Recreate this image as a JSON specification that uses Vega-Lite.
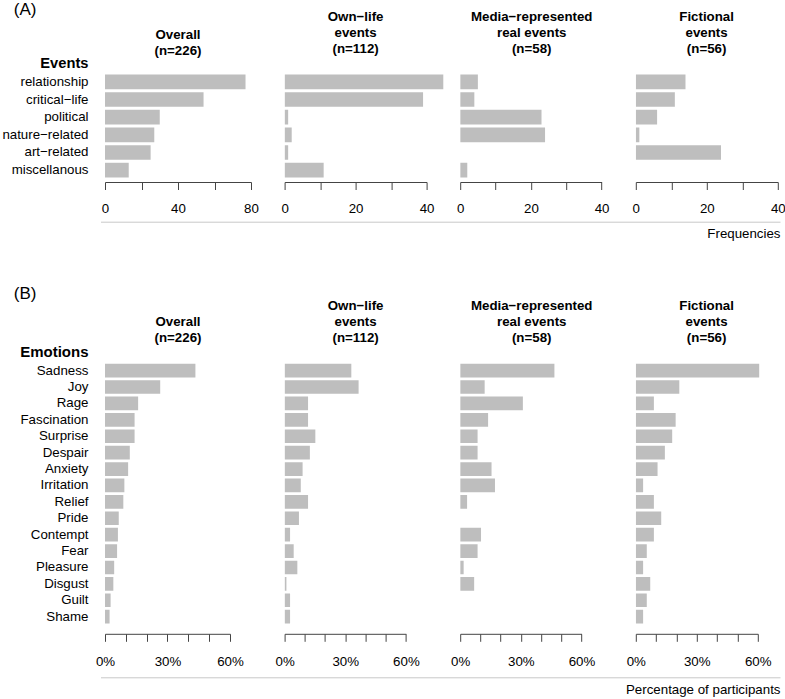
{
  "$schema": "https://vega.github.io/schema/vega-lite/v6.json",
  "padding": {"left": 1, "top": 0, "right": 0, "bottom": 0},
  "background": "white",
  "config": {
    "font": "Liberation Sans",
    "view": {"stroke": null},
    "title": {"font": "Liberation Sans", "fontSize": 13.3, "fontWeight": "bold", "color": "black", "lineHeight": 16.3, "baseline": "bottom", "frame": "group", "anchor": "middle"},
    "axis": {"labelFont": "Liberation Sans", "titleFont": "Liberation Sans", "labelColor": "black", "titleColor": "black", "grid": false}
  },
  "datasets": {
    "events": [
      {"panel": "Overall", "category": "relationship", "value": 77},
      {"panel": "Overall", "category": "critical−life", "value": 54},
      {"panel": "Overall", "category": "political", "value": 30},
      {"panel": "Overall", "category": "nature−related", "value": 27},
      {"panel": "Overall", "category": "art−related", "value": 25},
      {"panel": "Overall", "category": "miscellanous", "value": 13},
      {"panel": "Own", "category": "relationship", "value": 58},
      {"panel": "Own", "category": "critical−life", "value": 39},
      {"panel": "Own", "category": "political", "value": 1},
      {"panel": "Own", "category": "nature−related", "value": 2},
      {"panel": "Own", "category": "art−related", "value": 1},
      {"panel": "Own", "category": "miscellanous", "value": 11},
      {"panel": "Media", "category": "relationship", "value": 5},
      {"panel": "Media", "category": "critical−life", "value": 4},
      {"panel": "Media", "category": "political", "value": 23},
      {"panel": "Media", "category": "nature−related", "value": 24},
      {"panel": "Media", "category": "art−related", "value": 0},
      {"panel": "Media", "category": "miscellanous", "value": 2},
      {"panel": "Fict", "category": "relationship", "value": 14},
      {"panel": "Fict", "category": "critical−life", "value": 11},
      {"panel": "Fict", "category": "political", "value": 6},
      {"panel": "Fict", "category": "nature−related", "value": 1},
      {"panel": "Fict", "category": "art−related", "value": 24},
      {"panel": "Fict", "category": "miscellanous", "value": 0}
    ],
    "emotions": [
      {"panel": "Overall", "category": "Sadness", "value": 43.4},
      {"panel": "Overall", "category": "Joy", "value": 26.5},
      {"panel": "Overall", "category": "Rage", "value": 15.9},
      {"panel": "Overall", "category": "Fascination", "value": 14.2},
      {"panel": "Overall", "category": "Surprise", "value": 14.2},
      {"panel": "Overall", "category": "Despair", "value": 11.9},
      {"panel": "Overall", "category": "Anxiety", "value": 11.1},
      {"panel": "Overall", "category": "Irritation", "value": 9.3},
      {"panel": "Overall", "category": "Relief", "value": 8.8},
      {"panel": "Overall", "category": "Pride", "value": 6.6},
      {"panel": "Overall", "category": "Contempt", "value": 6.2},
      {"panel": "Overall", "category": "Fear", "value": 5.8},
      {"panel": "Overall", "category": "Pleasure", "value": 4.4},
      {"panel": "Overall", "category": "Disgust", "value": 4.0},
      {"panel": "Overall", "category": "Guilt", "value": 2.7},
      {"panel": "Overall", "category": "Shame", "value": 2.2},
      {"panel": "Own", "category": "Sadness", "value": 33.0},
      {"panel": "Own", "category": "Joy", "value": 36.6},
      {"panel": "Own", "category": "Rage", "value": 11.6},
      {"panel": "Own", "category": "Fascination", "value": 11.6},
      {"panel": "Own", "category": "Surprise", "value": 15.2},
      {"panel": "Own", "category": "Despair", "value": 12.5},
      {"panel": "Own", "category": "Anxiety", "value": 8.9},
      {"panel": "Own", "category": "Irritation", "value": 8.0},
      {"panel": "Own", "category": "Relief", "value": 11.6},
      {"panel": "Own", "category": "Pride", "value": 7.1},
      {"panel": "Own", "category": "Contempt", "value": 2.7},
      {"panel": "Own", "category": "Fear", "value": 4.5},
      {"panel": "Own", "category": "Pleasure", "value": 6.3},
      {"panel": "Own", "category": "Disgust", "value": 0.9},
      {"panel": "Own", "category": "Guilt", "value": 2.7},
      {"panel": "Own", "category": "Shame", "value": 2.7},
      {"panel": "Media", "category": "Sadness", "value": 46.6},
      {"panel": "Media", "category": "Joy", "value": 12.1},
      {"panel": "Media", "category": "Rage", "value": 31.0},
      {"panel": "Media", "category": "Fascination", "value": 13.8},
      {"panel": "Media", "category": "Surprise", "value": 8.6},
      {"panel": "Media", "category": "Despair", "value": 8.6},
      {"panel": "Media", "category": "Anxiety", "value": 15.5},
      {"panel": "Media", "category": "Irritation", "value": 17.2},
      {"panel": "Media", "category": "Relief", "value": 3.4},
      {"panel": "Media", "category": "Pride", "value": 0},
      {"panel": "Media", "category": "Contempt", "value": 10.3},
      {"panel": "Media", "category": "Fear", "value": 8.6},
      {"panel": "Media", "category": "Pleasure", "value": 1.7},
      {"panel": "Media", "category": "Disgust", "value": 6.9},
      {"panel": "Media", "category": "Guilt", "value": 0},
      {"panel": "Media", "category": "Shame", "value": 0},
      {"panel": "Fict", "category": "Sadness", "value": 60.7},
      {"panel": "Fict", "category": "Joy", "value": 21.4},
      {"panel": "Fict", "category": "Rage", "value": 8.9},
      {"panel": "Fict", "category": "Fascination", "value": 19.6},
      {"panel": "Fict", "category": "Surprise", "value": 17.9},
      {"panel": "Fict", "category": "Despair", "value": 14.3},
      {"panel": "Fict", "category": "Anxiety", "value": 10.7},
      {"panel": "Fict", "category": "Irritation", "value": 3.6},
      {"panel": "Fict", "category": "Relief", "value": 8.9},
      {"panel": "Fict", "category": "Pride", "value": 12.5},
      {"panel": "Fict", "category": "Contempt", "value": 8.9},
      {"panel": "Fict", "category": "Fear", "value": 5.4},
      {"panel": "Fict", "category": "Pleasure", "value": 3.6},
      {"panel": "Fict", "category": "Disgust", "value": 7.1},
      {"panel": "Fict", "category": "Guilt", "value": 5.4},
      {"panel": "Fict", "category": "Shame", "value": 3.6}
    ]
  },
  "bounds": "flush",
  "spacing": 283.5,
  "vconcat": [
    {
      "bounds": "flush",
      "spacing": 146.2,
      "vconcat": [
        {
          "title": {"text": "(A)", "anchor": "start", "frame": "group", "fontSize": 17, "fontWeight": "normal", "offset": -9.2, "dx": -91.2},
          "bounds": "flush",
          "spacing": 16.6,
          "hconcat": [
            {
              "width": 162.9, "height": 112,
              "title": {"text": ["Overall", "(n=226)"], "dx": -8.45, "dy": 16.3, "offset": 14.4},
              "data": {"name": "events"},
              "transform": [{"filter": "datum.panel === 'Overall'"}],
              "mark": {"type": "bar", "color": "#BEBEBE", "clip": true},
              "encoding": {
                "y": {"field": "category", "type": "nominal", "sort": ["relationship", "critical−life", "political", "nature−related", "art−related", "miscellanous"], "scale": {"paddingInner": 0.1667, "paddingOuter": 0.255},
                  "axis": {"ticks": false, "tickSize": 0, "domain": false, "labelPadding": 17, "labelFontSize": 13.3, "title": "Events", "titleAngle": 0, "titleFontSize": 14.7, "titleFontWeight": "bold", "titleAlign": "right", "titleBaseline": "middle", "titleX": -17, "titleY": -6.6}},
                "x": {"field": "value", "type": "quantitative", "scale": {"domain": [0, 89.26], "nice": false, "zero": true},
                  "axis": {"values": [0, 20, 40, 60, 80], "labelExpr": "datum.value % 40 === 0 ? datum.label : ''", "domainDash": [146, 2000], "domainColor": "#444", "tickColor": "#444", "tickSize": 7.5, "labelPadding": 11.75, "labelBaseline": "top", "labelFontSize": 13.3, "labelFlush": false, "labelOverlap": false, "title": null}}
              }
            },
            {
              "width": 158.7, "height": 112,
              "title": {"text": ["Own−life", "events", "(n=112)"], "dx": -8.35, "offset": 14.4},
              "data": {"name": "events"},
              "transform": [{"filter": "datum.panel === 'Own'"}],
              "mark": {"type": "bar", "color": "#BEBEBE", "clip": true},
              "encoding": {
                "y": {"field": "category", "type": "nominal", "sort": ["relationship", "critical−life", "political", "nature−related", "art−related", "miscellanous"], "scale": {"paddingInner": 0.1667, "paddingOuter": 0.255}, "axis": null},
                "x": {"field": "value", "type": "quantitative", "scale": {"domain": [0, 44.7], "nice": false, "zero": true},
                  "axis": {"values": [0, 10, 20, 30, 40], "labelExpr": "datum.value % 20 === 0 ? datum.label : ''", "domainDash": [142, 2000], "domainColor": "#444", "tickColor": "#444", "tickSize": 7.5, "labelPadding": 11.75, "labelBaseline": "top", "labelFontSize": 13.3, "labelFlush": false, "labelOverlap": false, "title": null}}
              }
            },
            {
              "width": 158.8, "height": 112,
              "title": {"text": ["Media−represented", "real events", "(n=58)"], "dx": -7.9, "offset": 14.4},
              "data": {"name": "events"},
              "transform": [{"filter": "datum.panel === 'Media'"}],
              "mark": {"type": "bar", "color": "#BEBEBE", "clip": true},
              "encoding": {
                "y": {"field": "category", "type": "nominal", "sort": ["relationship", "critical−life", "political", "nature−related", "art−related", "miscellanous"], "scale": {"paddingInner": 0.1667, "paddingOuter": 0.255}, "axis": null},
                "x": {"field": "value", "type": "quantitative", "scale": {"domain": [0, 44.92], "nice": false, "zero": true},
                  "axis": {"values": [0, 10, 20, 30, 40], "labelExpr": "datum.value % 20 === 0 ? datum.label : ''", "domainDash": [141.4, 2000], "domainColor": "#444", "tickColor": "#444", "tickSize": 7.5, "labelPadding": 11.75, "labelBaseline": "top", "labelFontSize": 13.3, "labelFlush": false, "labelOverlap": false, "title": null}}
              }
            },
            {
              "width": 142, "height": 112,
              "title": {"text": ["Fictional", "events", "(n=56)"], "dx": -0.2, "offset": 14.4},
              "data": {"name": "events"},
              "transform": [{"filter": "datum.panel === 'Fict'"}],
              "mark": {"type": "bar", "color": "#BEBEBE", "clip": true},
              "encoding": {
                "y": {"field": "category", "type": "nominal", "sort": ["relationship", "critical−life", "political", "nature−related", "art−related", "miscellanous"], "scale": {"paddingInner": 0.1667, "paddingOuter": 0.255}, "axis": null},
                "x": {"field": "value", "type": "quantitative", "scale": {"domain": [0, 40], "nice": false, "zero": true},
                  "axis": {"values": [0, 10, 20, 30, 40], "labelExpr": "datum.value % 20 === 0 ? datum.label : ''", "domainColor": "#444", "tickColor": "#444", "tickSize": 7.5, "labelPadding": 11.75, "labelBaseline": "top", "labelFontSize": 13.3, "labelFlush": false, "labelOverlap": false, "title": null}}
              }
            }
          ]
        },
        {
          "width": 679.5, "height": 10,
          "data": {"values": [{"v": 0}]},
          "mark": {"type": "point", "opacity": 0},
          "encoding": {
            "x": {"field": "v", "type": "quantitative", "scale": {"domain": [0, 1]},
              "axis": {"domainColor": "#c8c8c8", "ticks": false, "labels": false, "grid": false, "translate": -4, "title": "Frequencies", "titleX": 679.5, "titleY": 12, "titleAlign": "right", "titleBaseline": "middle", "titleFontSize": 13.3, "titleFontWeight": "normal", "titleAnchor": "end"}}
          }
        }
      ]
    },
    {
      "bounds": "flush",
      "spacing": 318.3,
      "vconcat": [
        {
          "title": {"text": "(B)", "anchor": "start", "frame": "group", "fontSize": 17, "fontWeight": "normal", "offset": -4, "dx": -91.2},
          "bounds": "flush",
          "spacing": 16.6,
          "hconcat": [
            {
              "width": 162.9, "height": 280.3,
              "title": {"text": ["Overall", "(n=226)"], "dx": -8.45, "dy": 8.3, "offset": 8.74},
              "data": {"name": "emotions"},
              "transform": [{"filter": "datum.panel === 'Overall'"}],
              "mark": {"type": "bar", "color": "#BEBEBE", "clip": true},
              "encoding": {
                "y": {"field": "category", "type": "nominal", "sort": ["Sadness", "Joy", "Rage", "Fascination", "Surprise", "Despair", "Anxiety", "Irritation", "Relief", "Pride", "Contempt", "Fear", "Pleasure", "Disgust", "Guilt", "Shame"], "scale": {"paddingInner": 0.1667, "paddingOuter": 0.628},
                  "axis": {"ticks": false, "tickSize": 0, "domain": false, "labelPadding": 17, "labelFontSize": 13.3, "title": "Emotions", "titleAngle": 0, "titleFontSize": 15, "titleFontWeight": "bold", "titleAlign": "right", "titleBaseline": "middle", "titleX": -17, "titleY": -1.6}},
                "x": {"field": "value", "type": "quantitative", "scale": {"domain": [0, 78.2], "nice": false, "zero": true},
                  "axis": {"values": [0, 10, 20, 30, 40, 50, 60], "labelExpr": "datum.value % 30 === 0 ? datum.value + '%' : ''", "domainDash": [125, 2000], "domainColor": "#444", "tickColor": "#444", "tickSize": 7.5, "labelPadding": 12.95, "labelBaseline": "top", "labelFontSize": 13.3, "labelFlush": false, "labelOverlap": false, "title": null}}
              }
            },
            {
              "width": 158.7, "height": 280.3,
              "title": {"text": ["Own−life", "events", "(n=112)"], "dx": -8.35, "offset": 8.74},
              "data": {"name": "emotions"},
              "transform": [{"filter": "datum.panel === 'Own'"}],
              "mark": {"type": "bar", "color": "#BEBEBE", "clip": true},
              "encoding": {
                "y": {"field": "category", "type": "nominal", "sort": ["Sadness", "Joy", "Rage", "Fascination", "Surprise", "Despair", "Anxiety", "Irritation", "Relief", "Pride", "Contempt", "Fear", "Pleasure", "Disgust", "Guilt", "Shame"], "scale": {"paddingInner": 0.1667, "paddingOuter": 0.628}, "axis": null},
                "x": {"field": "value", "type": "quantitative", "scale": {"domain": [0, 78.49], "nice": false, "zero": true},
                  "axis": {"values": [0, 10, 20, 30, 40, 50, 60], "labelExpr": "datum.value % 30 === 0 ? datum.value + '%' : ''", "domainDash": [121.3, 2000], "domainColor": "#444", "tickColor": "#444", "tickSize": 7.5, "labelPadding": 12.95, "labelBaseline": "top", "labelFontSize": 13.3, "labelFlush": false, "labelOverlap": false, "title": null}}
              }
            },
            {
              "width": 158.8, "height": 280.3,
              "title": {"text": ["Media−represented", "real events", "(n=58)"], "dx": -7.9, "offset": 8.74},
              "data": {"name": "emotions"},
              "transform": [{"filter": "datum.panel === 'Media'"}],
              "mark": {"type": "bar", "color": "#BEBEBE", "clip": true},
              "encoding": {
                "y": {"field": "category", "type": "nominal", "sort": ["Sadness", "Joy", "Rage", "Fascination", "Surprise", "Despair", "Anxiety", "Irritation", "Relief", "Pride", "Contempt", "Fear", "Pleasure", "Disgust", "Guilt", "Shame"], "scale": {"paddingInner": 0.1667, "paddingOuter": 0.628}, "axis": null},
                "x": {"field": "value", "type": "quantitative", "scale": {"domain": [0, 78.54], "nice": false, "zero": true},
                  "axis": {"values": [0, 10, 20, 30, 40, 50, 60], "labelExpr": "datum.value % 30 === 0 ? datum.value + '%' : ''", "domainDash": [121.3, 2000], "domainColor": "#444", "tickColor": "#444", "tickSize": 7.5, "labelPadding": 12.95, "labelBaseline": "top", "labelFontSize": 13.3, "labelFlush": false, "labelOverlap": false, "title": null}}
              }
            },
            {
              "width": 142, "height": 280.3,
              "title": {"text": ["Fictional", "events", "(n=56)"], "dx": -0.2, "offset": 8.74},
              "data": {"name": "emotions"},
              "transform": [{"filter": "datum.panel === 'Fict'"}],
              "mark": {"type": "bar", "color": "#BEBEBE", "clip": true},
              "encoding": {
                "y": {"field": "category", "type": "nominal", "sort": ["Sadness", "Joy", "Rage", "Fascination", "Surprise", "Despair", "Anxiety", "Irritation", "Relief", "Pride", "Contempt", "Fear", "Pleasure", "Disgust", "Guilt", "Shame"], "scale": {"paddingInner": 0.1667, "paddingOuter": 0.628}, "axis": null},
                "x": {"field": "value", "type": "quantitative", "scale": {"domain": [0, 69.85], "nice": false, "zero": true},
                  "axis": {"values": [0, 10, 20, 30, 40, 50, 60], "labelExpr": "datum.value % 30 === 0 ? datum.value + '%' : ''", "domainDash": [122, 2000], "domainColor": "#444", "tickColor": "#444", "tickSize": 7.5, "labelPadding": 12.95, "labelBaseline": "top", "labelFontSize": 13.3, "labelFlush": false, "labelOverlap": false, "title": null}}
              }
            }
          ]
        },
        {
          "width": 679.5, "height": 10,
          "data": {"values": [{"v": 0}]},
          "mark": {"type": "point", "opacity": 0},
          "encoding": {
            "x": {"field": "v", "type": "quantitative", "scale": {"domain": [0, 1]},
              "axis": {"domainColor": "#c8c8c8", "ticks": false, "labels": false, "grid": false, "translate": -4, "title": "Percentage of participants", "titleX": 679.5, "titleY": 12, "titleAlign": "right", "titleBaseline": "middle", "titleFontSize": 13.3, "titleFontWeight": "normal", "titleAnchor": "end"}}
          }
        }
      ]
    }
  ]
}
